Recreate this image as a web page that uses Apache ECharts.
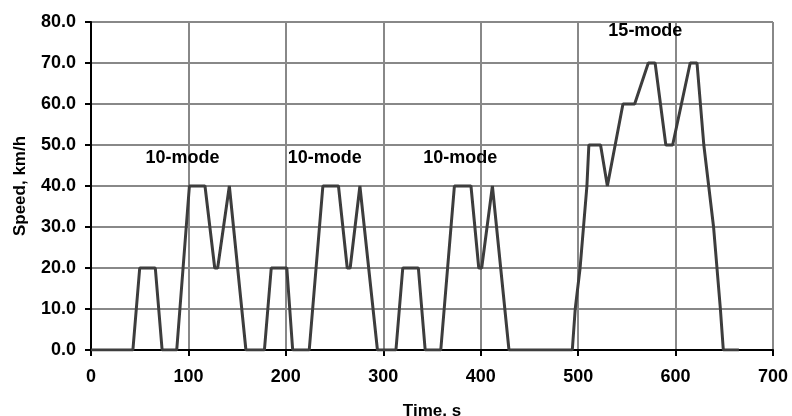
<!DOCTYPE html>
<html>
<head>
<meta charset="utf-8">
<script src="https://cdn.jsdelivr.net/npm/echarts@6/dist/echarts.min.js"></script>
<style>
  html, body { margin: 0; padding: 0; background: #fff; }
  #chart { width: 792px; height: 416px; }
</style>
</head>
<body>
<div id="chart"></div>
<script>
// speed trace: time (s) and speed (km/h) break points
const timeS = [
  0, 43, 50, 66, 73, 88, 101, 117, 127, 130, 142, 159,
  178, 185, 201, 207, 224, 238, 254, 263, 266, 276, 294,
  313, 320, 336, 343, 359, 373, 390, 398, 401, 412, 429,
  494, 497, 502, 509, 511, 523, 530, 532, 546, 558, 572, 579, 590, 597, 615, 622, 629, 639, 646, 649, 665
];
const speedKmh = [
  0, 0, 20, 20, 0, 0, 40, 40, 20, 20, 40, 0,
  0, 20, 20, 0, 0, 40, 40, 20, 20, 40, 0,
  0, 20, 20, 0, 0, 40, 40, 20, 20, 40, 0,
  0, 10, 20, 40, 50, 50, 40, 40, 60, 60, 70, 70, 50, 50, 70, 70, 50, 30, 10, 0, 0
];

// annotations
const modeNames = ['10-mode', '10-mode', '10-mode', '15-mode'];
const modeT = [94, 240, 379, 569];
const modeV = [46.8, 46.8, 46.8, 77.7];

const font = "'Liberation Sans', Arial, sans-serif";

const chart = echarts.init(document.getElementById('chart'));
chart.setOption({
  animation: false,
  grid: { left: 91, right: 19, top: 22, bottom: 66, outerBoundsMode: 'none' },
  xAxis: {
    type: 'value',
    min: 0, max: 700, interval: 100,
    name: 'Time, s',
    nameLocation: 'middle',
    nameGap: 53,
    nameTextStyle: { color: '#000', fontSize: 17, fontWeight: 'bold', fontFamily: font, verticalAlign: 'top' },
    axisLine: { show: true, onZero: false, lineStyle: { color: '#000', width: 2 } },
    axisTick: { show: true, length: 6, lineStyle: { color: '#000', width: 2 } },
    axisLabel: { color: '#000', fontSize: 18, fontWeight: 'bold', fontFamily: font, margin: 18 },
    splitLine: { show: true, lineStyle: { color: '#888', width: 2 } }
  },
  yAxis: {
    type: 'value',
    min: 0, max: 80, interval: 10,
    name: 'Speed, km/h',
    nameLocation: 'middle',
    nameGap: 62,
    nameTextStyle: { color: '#000', fontSize: 17, fontWeight: 'bold', fontFamily: font },
    axisLine: { show: true, lineStyle: { color: '#000', width: 2 } },
    axisTick: { show: true, length: 6, lineStyle: { color: '#000', width: 2 } },
    axisLabel: { color: '#000', fontSize: 18, fontWeight: 'bold', fontFamily: font, margin: 15,
      formatter: v => v.toFixed(1) },
    splitLine: { show: true, lineStyle: { color: '#888', width: 2 } }
  },
  series: [
    {
      type: 'line',
      data: timeS.map((t, i) => [t, speedKmh[i]]),
      showSymbol: false,
      lineStyle: { color: '#3d3d3d', width: 3 },
      z: 3
    },
    {
      type: 'scatter',
      data: modeT.map((t, i) => [t, modeV[i], modeNames[i]]),
      symbolSize: 1,
      itemStyle: { opacity: 0 },
      label: {
        show: true,
        position: 'inside',
        opacity: 1,
        formatter: p => p.data[2],
        color: '#000',
        fontSize: 18,
        fontWeight: 'bold',
        fontFamily: font
      },
      z: 4
    }
  ]
});
</script>
</body>
</html>
